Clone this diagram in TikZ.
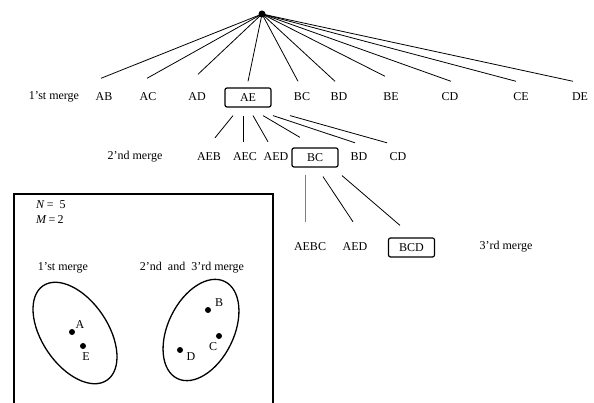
\documentclass[tikz,border=0pt]{standalone}
\usepackage{fontspec}
\setmainfont{Liberation Serif}
\begin{document}
\begin{tikzpicture}[x=1pt,y=-1pt,
  lbl/.style={inner sep=0pt, minimum height=19pt, font=\fontsize{12}{14}\selectfont},
  boxed/.style={lbl, draw, rounded corners=2pt, line width=1.2pt, minimum width=46pt},
  edge/.style={line width=0.8pt},
  dot/.style={circle, fill, inner sep=0pt, minimum size=6pt},
  ptlbl/.style={inner sep=0pt, font=\fontsize{12}{14}\selectfont}]
\useasboundingbox (0,0) rectangle (594,403);
% root
\node[dot, minimum size=7pt] (root) at (262,14) {};
% row 1
\node[lbl] (m1) at (54,97) {1'st merge};
\node[lbl] (ab) at (104,97) {AB};
\node[lbl] (ac) at (148,97) {AC};
\node[lbl] (ad) at (197,97) {AD};
\node[boxed] (ae) at (248,97.5) {AE};
\node[lbl] (bc) at (302,97) {BC};
\node[lbl] (bd) at (339,97) {BD};
\node[lbl] (be) at (391,97) {BE};
\node[lbl] (cd) at (450,97) {CD};
\node[lbl] (ce) at (521,97) {CE};
\node[lbl] (de) at (580,97) {DE};
\draw[edge] (root.center) -- ([xshift=-3pt,yshift=9pt]ab.north);
\draw[edge] (root.center) -- ([xshift=-1pt,yshift=9pt]ac.north);
\draw[edge] (root.center) -- ([xshift=1pt,yshift=13pt]ad.north);
\draw[edge] (root.center) -- ([yshift=6pt]ae.north);
\draw[edge] (root.center) -- ([xshift=-4pt,yshift=6pt]bc.north);
\draw[edge] (root.center) -- ([xshift=-4pt,yshift=6pt]bd.north);
\draw[edge] (root.center) -- ([xshift=-6pt,yshift=11pt]be.north);
\draw[edge] (root.center) -- ([xshift=1pt,yshift=6pt]cd.north);
\draw[edge] (root.center) -- ([xshift=-5pt,yshift=6pt]ce.north);
\draw[edge] (root.center) -- ([xshift=-7pt,yshift=6pt]de.north);
% row 2
\node[lbl] (m2) at (135,157) {2'nd merge};
\node[lbl] (aeb) at (209,157) {AEB};
\node[lbl] (aec) at (245,157) {AEC};
\node[lbl] (aed) at (276,157) {AED};
\node[boxed] (bc2) at (315,157.5) {BC};
\node[lbl] (bd2) at (359,157) {BD};
\node[lbl] (cd2) at (398,157) {CD};
\draw[edge] ([xshift=-15pt,yshift=-8pt]ae.south) -- ([xshift=6pt,yshift=9.5pt]aeb.north);
\draw[edge] ([xshift=-5pt,yshift=-8pt]ae.south) -- ([xshift=-2pt,yshift=5.5pt]aec.north);
\draw[edge] ([xshift=5pt,yshift=-8pt]ae.south) -- ([xshift=-8pt,yshift=5.5pt]aed.north);
\draw[edge] ([xshift=15pt,yshift=-8pt]ae.south) -- ([xshift=-15pt,yshift=10pt]bc2.north);
\draw[edge] ([xshift=25pt,yshift=-8pt]ae.south) -- ([xshift=-4pt,yshift=4.5pt]bd2.north);
\draw[edge] ([xshift=42pt,yshift=-8pt]ae.south) -- ([xshift=-11pt,yshift=4.5pt]cd2.north);
% row 3
\node[lbl] (aebc) at (310,247) {AEBC};
\node[lbl] (aed3) at (355,247) {AED};
\node[boxed] (bcd) at (411.5,247.5) {BCD};
\node[lbl] (m3) at (506,247) {3'rd merge};
\draw[edge, gray, line width=1pt] ([xshift=-10pt,yshift=-7pt]bc2.south) -- ([xshift=-5pt,yshift=15.5pt]aebc.north);
\draw[edge] ([xshift=8pt,yshift=-9pt]bc2.south) -- ([xshift=-2pt,yshift=15.5pt]aed3.north);
\draw[edge] ([xshift=27pt,yshift=-8pt]bc2.south) -- ([xshift=-11.5pt,yshift=12pt]bcd.north);
% inset box
\draw[line width=1.4pt] (14,403) -- (14,194) -- (273,194) -- (273,403);
\node[ptlbl, anchor=west] (nn) at (36,205) {\textit{N}\,=\ \ 5};
\node[ptlbl, anchor=west] (mm) at (36,220) {\textit{M}\,=\,2};
\node[ptlbl] (l1) at (63,268) {1'st merge};
\node[ptlbl] (l2) at (192,268) {2'nd\ \ and\ \ 3'rd merge};
\draw[line width=1.3pt, rotate around={34:(75,333)}] (75,333) ellipse [x radius=33, y radius=57];
\draw[line width=1.3pt, rotate around={-26:(201,330)}] (201,330) ellipse [x radius=33, y radius=54];
\node[dot] (pa) at (72,332) {};
\node[dot] (pe) at (83,346) {};
\node[ptlbl] (ta) at (80,325) {A};
\node[ptlbl] (te) at (86,357) {E};
\node[dot] (pb) at (208,310) {};
\node[dot] (pc) at (219,336) {};
\node[dot] (pd) at (180,350) {};
\node[ptlbl] (tb) at (219,303) {B};
\node[ptlbl] (tc) at (213,347) {C};
\node[ptlbl] (td) at (191,357) {D};
\end{tikzpicture}
\end{document}
